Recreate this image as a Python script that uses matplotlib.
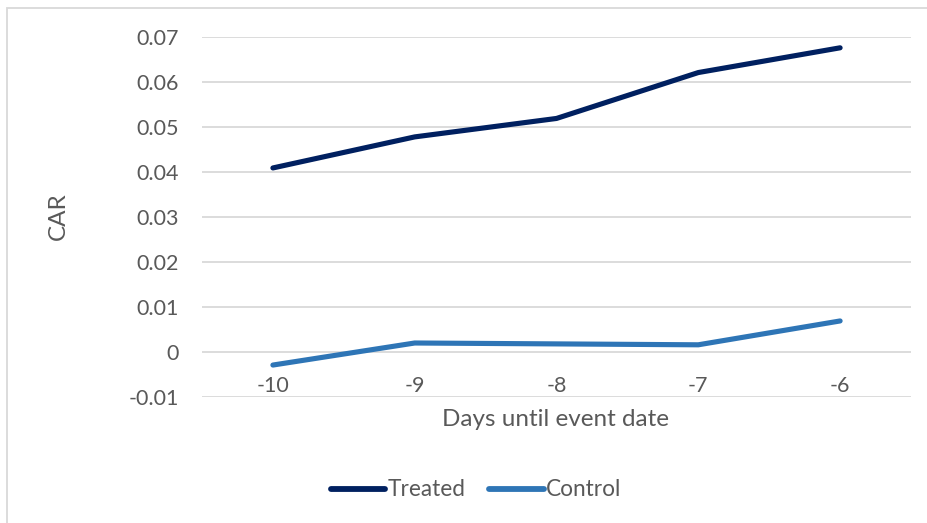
import matplotlib.pyplot as plt
from matplotlib.patches import Rectangle

plt.rcParams['font.family'] = ['Lato', 'DejaVu Sans']

days = ['-10', '-9', '-8', '-7', '-6']
treated = [0.0409, 0.0478, 0.0519, 0.0621, 0.0676]
control = [-0.0029, 0.0020, 0.0018, 0.0016, 0.0069]
yticks = [-0.01, 0, 0.01, 0.02, 0.03, 0.04, 0.05, 0.06, 0.07]
ytick_labels = ['-0.01', '0', '0.01', '0.02', '0.03', '0.04', '0.05', '0.06', '0.07']

text_color = '#595959'
grid_color = '#D9D9D9'

fig = plt.figure(figsize=(9.27, 5.23), dpi=100)
# chart area frame (runs off the right and bottom edges)
fig.patches.append(Rectangle((7.5 / 927, -10 / 523), 940 / 927, 525 / 523,
                             transform=fig.transFigure, fill=False,
                             edgecolor='#D9D9D9', linewidth=1.3))

ax = fig.add_axes([202 / 927, 1 - 397 / 523, 709 / 927, 360 / 523])
x = list(range(len(days)))
ax.plot(x, treated, color='#002060', linewidth=3.7, solid_capstyle='round',
        solid_joinstyle='round', label='Treated')
ax.plot(x, control, color='#2E75B6', linewidth=3.7, solid_capstyle='round',
        solid_joinstyle='round', label='Control')

ax.set_xlim(-0.5, len(days) - 0.5)
ax.set_ylim(-0.01, 0.07)
ax.set_yticks(yticks)
ax.set_yticklabels(ytick_labels)
ax.yaxis.grid(True, color=grid_color, linewidth=1.3)
ax.set_axisbelow(True)
for s in ax.spines.values():
    s.set_visible(False)
ax.tick_params(axis='y', length=0, pad=16.5, labelsize=15.5, labelcolor=text_color)

# category labels sit just under the zero line
ax.set_xticks(x)
ax.set_xticklabels(days)
ax.spines['bottom'].set_position(('data', 0))
ax.tick_params(axis='x', length=0, pad=17, labelsize=15.5, labelcolor=text_color)

fig.text(556 / 927, 1 - 419 / 523, 'Days until event date', ha='center', va='center',
         fontsize=17.5, color=text_color)
fig.text(58 / 927, 1 - 216 / 523, 'CAR', ha='center', va='center', rotation=90,
         fontsize=17.5, color=text_color)

leg = fig.legend(loc='center', bbox_to_anchor=(476 / 927, 1 - 490 / 523), ncol=2,
                 frameon=False, fontsize=16.3, handlelength=2.4, handletextpad=0.1,
                 columnspacing=1.05)
for t in leg.get_texts():
    t.set_color(text_color)
for h in leg.legend_handles:
    h.set_linewidth(4.2)

fig.savefig('out.png', dpi=100)
